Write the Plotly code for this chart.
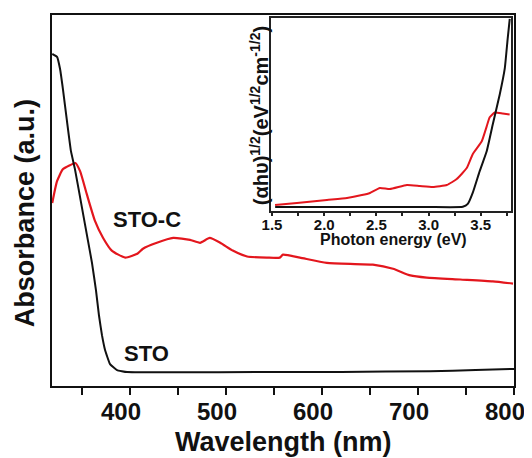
import plotly.graph_objects as go

# Main spectrum: wavelength (nm) vs absorbance (a.u.)
sto_wl = [319, 324.0, 327.1, 330.2, 334.4, 338.5, 342.7, 350.0, 356.25, 360.4, 364.6, 367.7, 370.8, 374.0, 379.2, 386.5, 396.9, 450, 535, 620, 712.5, 760, 800]
sto_abs = [89.5, 88.7, 85.5, 79.9, 71.3, 63.3, 58.4, 48.0, 39.1, 33.2, 25.7, 19.0, 13.7, 9.7, 5.9, 4.3, 3.75, 3.7, 3.75, 3.8, 4.0, 4.3, 4.6]

stoc_wl = [319, 324, 330, 337.5, 343, 348, 355, 363.5, 372, 381, 395, 408, 413.5, 428, 445, 462.5, 473, 483, 494, 507, 522, 543, 556, 559.4, 577, 605, 653, 674, 692, 709, 744, 778, 799]
stoc_abs = [49.3, 55.2, 58.4, 59.5, 60.1, 57.9, 51.7, 44.5, 39.9, 36.5, 34.6, 35.7, 37.0, 38.6, 39.9, 39.4, 38.6, 39.9, 38.6, 36.5, 34.9, 34.6, 34.6, 35.4, 34.6, 33.2, 32.7, 31.6, 29.8, 29.2, 28.7, 28.2, 27.6]

# Inset: Tauc plot, photon energy (eV) vs (alpha h nu)^1/2
sto_ev = [1.53, 2.0, 2.5, 3.0, 3.328, 3.376, 3.423, 3.49, 3.557, 3.615, 3.682, 3.73, 3.758, 3.778]
sto_tauc = [2.0, 2.0, 2.0, 2.0, 2.1, 3.6, 9.3, 20.6, 30.9, 44.8, 60.3, 73.7, 89.2, 99.5]

stoc_ev = [1.529, 1.739, 2.026, 2.218, 2.361, 2.438, 2.533, 2.629, 2.792, 2.916, 3.041, 3.175, 3.27, 3.366, 3.423, 3.51, 3.557, 3.586, 3.634, 3.71, 3.777]
stoc_tauc = [3.1, 4.1, 5.7, 6.7, 8.2, 9.3, 11.9, 11.3, 13.4, 12.9, 12.4, 13.4, 16.5, 22.2, 29.4, 36.1, 43.8, 48.5, 51.0, 50.5, 50.0]

RED = "#e3161d"
BLACK = "#111111"
FONT = "Liberation Sans"

fig = go.Figure()
fig.add_trace(go.Scatter(x=stoc_wl, y=stoc_abs, mode="lines",
                         line=dict(color=RED, width=2.2, shape="spline", smoothing=0.5), showlegend=False))
fig.add_trace(go.Scatter(x=sto_wl, y=sto_abs, mode="lines",
                         line=dict(color=BLACK, width=2, shape="spline", smoothing=0.3), showlegend=False))
fig.add_trace(go.Scatter(x=stoc_ev, y=stoc_tauc, mode="lines",
                         line=dict(color=RED, width=2, shape="spline", smoothing=0.4), showlegend=False,
                         xaxis="x2", yaxis="y2"))
fig.add_trace(go.Scatter(x=sto_ev, y=sto_tauc, mode="lines",
                         line=dict(color=BLACK, width=2, shape="spline", smoothing=0.4), showlegend=False,
                         xaxis="x2", yaxis="y2"))

fig.update_layout(
    width=532, height=450,
    margin=dict(l=44, r=26, t=5, b=72),
    paper_bgcolor="white", plot_bgcolor="white",
    font=dict(family=FONT, color=BLACK),
    xaxis=dict(
        domain=[0, 1], range=[318.75, 800],
        showline=True, mirror=True, linecolor=BLACK, linewidth=2,
        ticks="outside", ticklen=7, tickwidth=2, tickcolor=BLACK,
        tickvals=[400, 500, 600, 700, 800],
        minor=dict(tickvals=[350, 450, 550, 650, 750], ticks="outside", ticklen=7, tickwidth=2, tickcolor=BLACK),
        tickfont=dict(family=FONT, size=24, weight="bold", color=BLACK),
        ticklabelstandoff=-4, ticklabelshift=-9, ticklabeloverflow="allow",
        showgrid=False, zeroline=False,
    ),
    yaxis=dict(
        domain=[0, 1], range=[0, 100],
        showline=True, mirror=True, linecolor=BLACK, linewidth=2,
        ticks="", showticklabels=False, showgrid=False, zeroline=False,
    ),
    xaxis2=dict(
        domain=[0.474, 0.9935], range=[1.49, 3.79], anchor="y2",
        showline=True, mirror=True, linecolor="#222", linewidth=1.5,
        ticks="outside", ticklen=3, tickwidth=1.5, tickcolor="#222",
        tickvals=[1.5, 2.0, 2.5, 3.0, 3.5], ticktext=["1.5", "2.0", "2.5", "3.0", "3.5"],
        minor=dict(tickvals=[1.75, 2.25, 2.75, 3.25, 3.75], ticks="outside", ticklen=3, tickwidth=1.5, tickcolor="#222"),
        tickfont=dict(family=FONT, size=15, weight="bold", color=BLACK),
        ticklabelstandoff=-4,
        showgrid=False, zeroline=False,
    ),
    yaxis2=dict(
        domain=[0.472, 0.992], range=[0, 100], anchor="x2",
        showline=True, mirror=True, linecolor="#222", linewidth=1.5,
        ticks="", showticklabels=False, showgrid=False, zeroline=False,
    ),
    annotations=[
        dict(text="Wavelength (nm)", xref="paper", yref="paper", x=0.5, y=-0.150,
             xanchor="center", yanchor="middle", showarrow=False,
             font=dict(family=FONT, size=27, weight="bold", color=BLACK)),
        dict(text="Absorbance (a.u.)", xref="paper", yref="paper", x=-0.0584, y=0.466,
             xanchor="center", yanchor="middle", showarrow=False, textangle=-90,
             font=dict(family=FONT, size=27, weight="bold", color=BLACK)),
        dict(text="Photon energy (eV)", xref="paper", yref="paper", x=0.740, y=0.395,
             xanchor="center", yanchor="middle", showarrow=False,
             font=dict(family=FONT, size=16, weight="bold", color=BLACK)),
        dict(text="(αhυ)<sup>1/2</sup>(eV<sup>1/2</sup>cm<sup>-1/2</sup>)", xref="paper", yref="paper",
             x=0.448, y=0.730, xanchor="center", yanchor="middle", showarrow=False, textangle=-90,
             font=dict(family=FONT, size=20, weight="bold", color=BLACK)),
        dict(text="STO-C", xref="x", yref="y", x=417.7, y=45.0, xanchor="center", yanchor="middle",
             showarrow=False, font=dict(family=FONT, size=22, weight="bold", color=BLACK)),
        dict(text="STO", xref="x", yref="y", x=416.7, y=8.8, xanchor="center", yanchor="middle",
             showarrow=False, font=dict(family=FONT, size=22, weight="bold", color=BLACK)),
    ],
)

fig.write_html("out.html")
